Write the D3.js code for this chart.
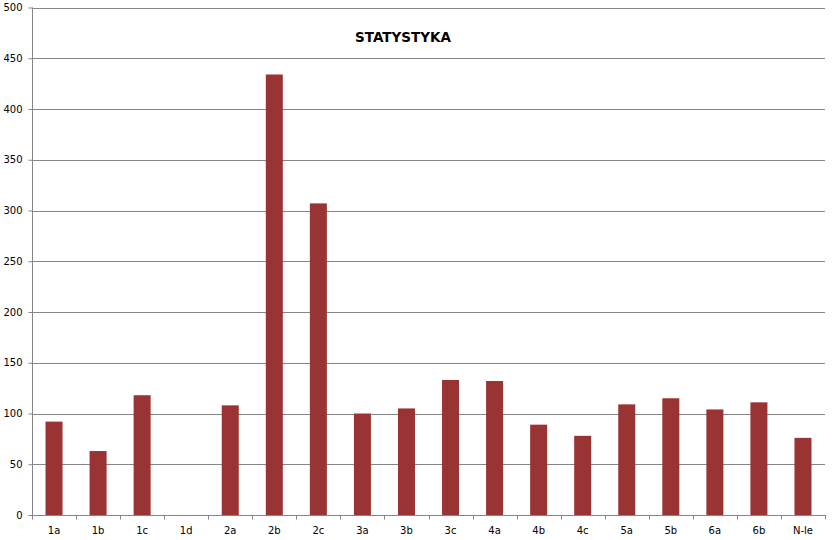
<!DOCTYPE html>
<html>
<head>
<meta charset="utf-8">
<script src="https://cdn.jsdelivr.net/npm/d3@7/dist/d3.min.js"></script>
<style>
  html, body { margin: 0; padding: 0; background: #fff; }
  svg { display: block; }
  text { font-family: "DejaVu Sans", Verdana, sans-serif; }
</style>
</head>
<body>
<svg id="chart" width="833" height="540"></svg>
<script>
const categories = ["1a","1b","1c","1d","2a","2b","2c","3a","3b","3c","4a","4b","4c","5a","5b","6a","6b","N-le"];
const values = [92, 63, 118, 0, 108, 434, 307, 100, 105, 133, 132, 89, 78, 109, 115, 104, 111, 76];
const yTicks = [0, 50, 100, 150, 200, 250, 300, 350, 400, 450, 500];
const title = "STATYSTYKA";

const svg = d3.select("#chart");
const mLeft = 32, mRight = 825, mTop = 7.5, mBottom = 515;

const x = d3.scaleBand().domain(categories).range([mLeft, mRight]).paddingInner(0).paddingOuter(0);
const y = d3.scaleLinear().domain([0, 500]).range([mBottom, mTop]);

const gridColor = "#868686";

// gridlines
svg.append("g").selectAll("line").data(yTicks.filter(d => d > 0)).join("line")
  .attr("x1", mLeft).attr("x2", mRight)
  .attr("y1", d => Math.round(y(d)) + 0.5).attr("y2", d => Math.round(y(d)) + 0.5)
  .attr("stroke", gridColor).attr("stroke-width", 1);

// bars
const barW = x.bandwidth() * 0.386;
svg.append("g").selectAll("rect").data(values).join("rect")
  .attr("x", (d, i) => x(categories[i]) + (x.bandwidth() - barW) / 2)
  .attr("y", d => y(d))
  .attr("width", barW)
  .attr("height", d => mBottom - y(d))
  .attr("fill", "#9a3333");

// y axis
const yAxis = d3.axisLeft(y).tickValues(yTicks).tickSize(4).tickPadding(6);
const gy = svg.append("g").attr("transform", `translate(${mLeft + 0.5},0)`).call(yAxis);
gy.select(".domain").attr("stroke", gridColor).attr("d", `M0,${mTop}V${mBottom + 0.5}`);
gy.selectAll(".tick line").attr("stroke", gridColor);
gy.selectAll(".tick text").attr("font-size", "10px").attr("fill", "#000")
  .attr("font-family", "'DejaVu Sans', Verdana, sans-serif");

// x axis
const xAxis = d3.axisBottom(x).tickSize(0).tickPadding(11);
const gx = svg.append("g").attr("transform", `translate(0,${mBottom + 0.5})`).call(xAxis);
gx.select(".domain").attr("stroke", gridColor).attr("d", `M${mLeft},0H${mRight + 1}`);
gx.selectAll(".tick text").attr("font-size", "10px").attr("fill", "#000")
  .attr("font-family", "'DejaVu Sans', Verdana, sans-serif");
// boundary tick marks
const bounds = categories.map(c => x(c)).concat([mRight]);
gx.append("g").selectAll("line").data(bounds).join("line")
  .attr("x1", d => Math.round(d) + 0.5).attr("x2", d => Math.round(d) + 0.5)
  .attr("y1", 0).attr("y2", 4)
  .attr("stroke", gridColor);

// title
svg.append("text")
  .attr("x", 403).attr("y", 42)
  .attr("text-anchor", "middle")
  .attr("font-size", "13.5px").attr("font-weight", "bold")
  .attr("fill", "#000")
  .text(title);
</script>
</body>
</html>
